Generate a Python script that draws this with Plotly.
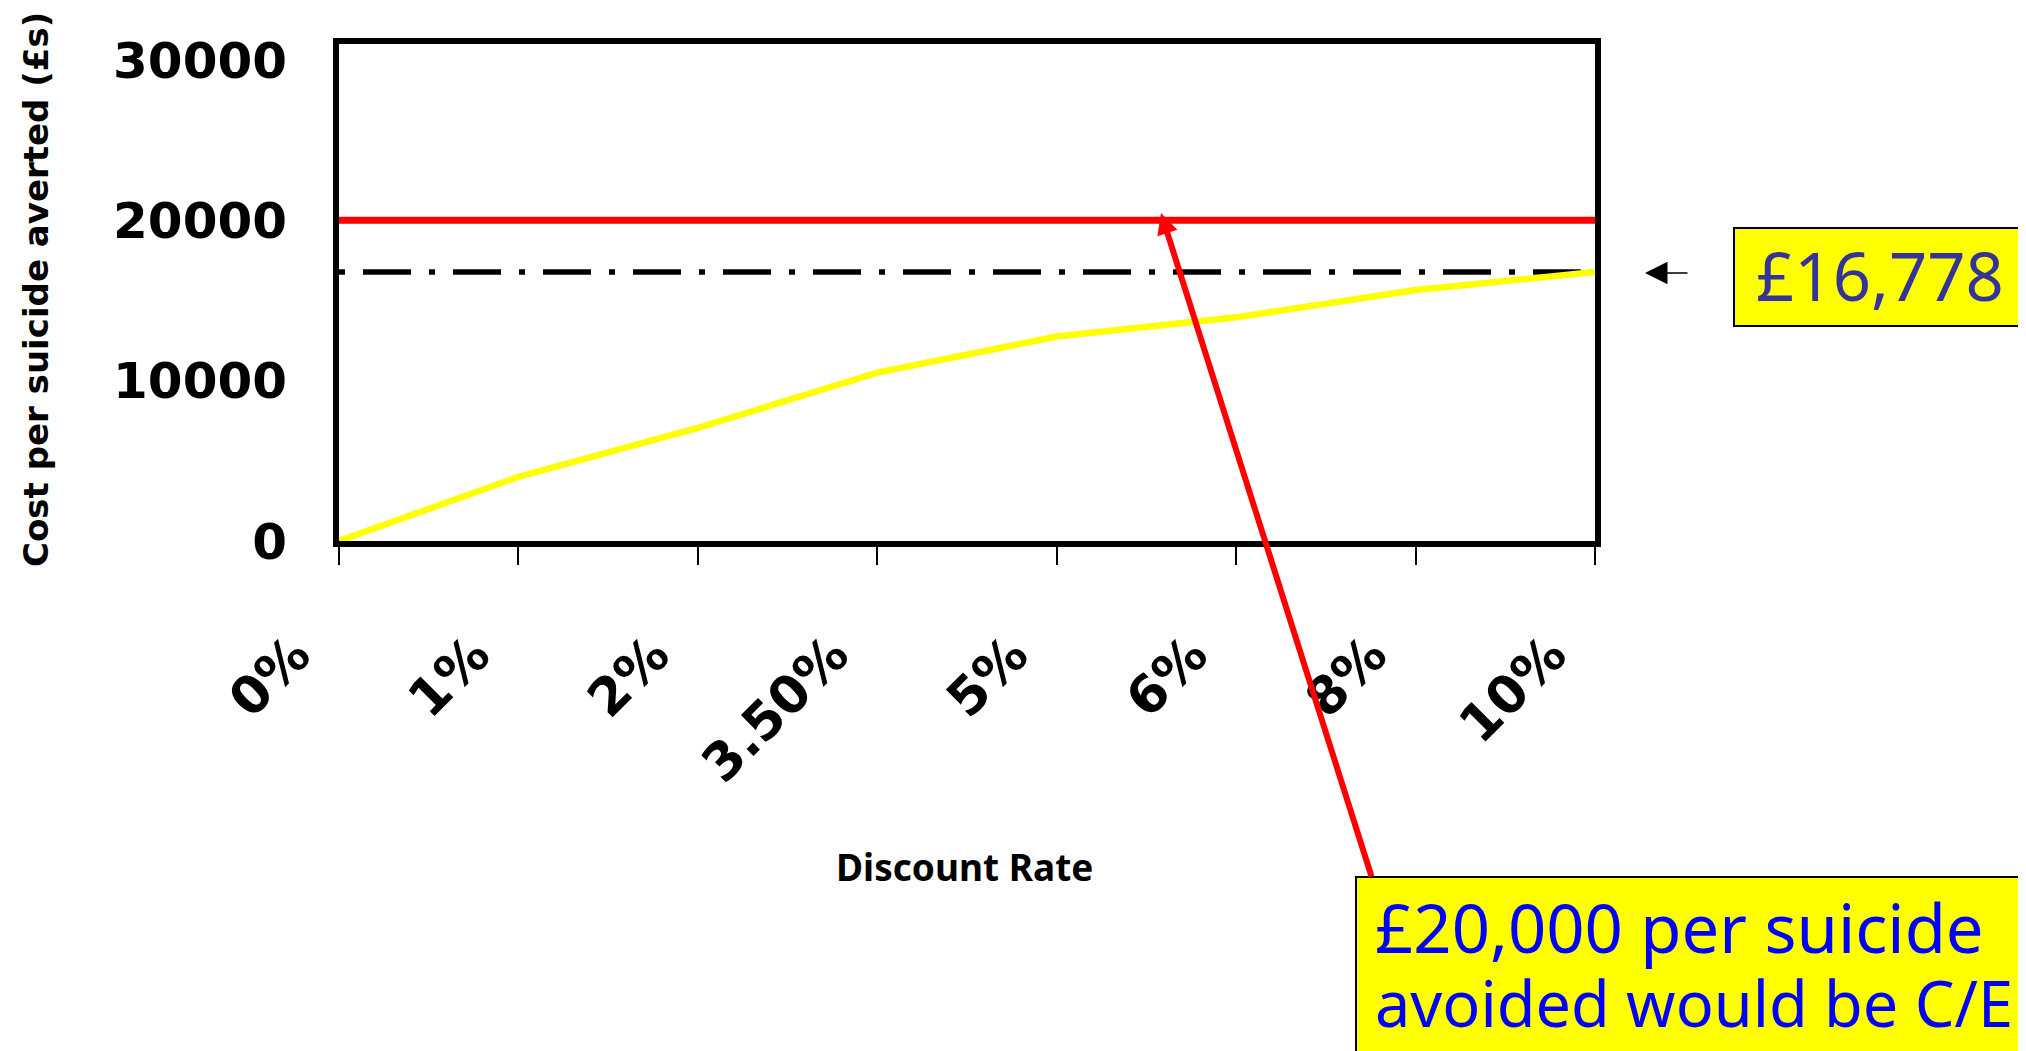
import plotly.graph_objects as go

# ---- data ----
discount_rates = ["0%", "1%", "2%", "3.50%", "5%", "6%", "8%", "10%"]
cost_per_suicide = [0, 4000, 7050, 10500, 12750, 13950, 15650, 16778]
threshold_ce = 20000
base_case = 16778
y_ticks = [0, 10000, 20000, 30000]

# ---- layout geometry (screen pixels; page body has an 8px margin) ----
W, H = 2026, 1051
OFF = 8
L, R, T, B = 339, 1595, 44, 541  # plot area on screen


def px(x):
    return (x - L) / (R - L)


def py(y):
    return (B - y) / (B - T)


fig = go.Figure()
ends = [discount_rates[0], discount_rates[-1]]
fig.add_trace(go.Scatter(x=ends, y=[threshold_ce] * 2, mode="lines",
                         line=dict(color="#FF0000", width=7), hoverinfo="skip"))
fig.add_trace(go.Scatter(x=ends, y=[base_case] * 2, mode="lines",
                         line=dict(color="black", width=5.5, dash="6px,18px,48px,18px"),
                         hoverinfo="skip"))
fig.add_trace(go.Scatter(x=discount_rates, y=cost_per_suicide, mode="lines",
                         line=dict(color="#FFFF00", width=6.5)))

fig.update_layout(
    width=W, height=H,
    margin=dict(l=L - OFF, r=W - (R - OFF), t=T - OFF, b=H - (B - OFF), autoexpand=False),
    paper_bgcolor="white", plot_bgcolor="white",
    showlegend=False,
    xaxis=dict(type="category", categoryorder="array", categoryarray=discount_rates,
               range=[0, len(discount_rates) - 1],
               showline=True, linecolor="black", linewidth=6, mirror=True,
               showgrid=False, zeroline=False,
               ticks="outside", ticklen=18, tickwidth=2, tickcolor="black",
               tickangle=-45,
               tickfont=dict(family="DejaVu Sans", size=52, color="black", weight="bold"),
               ticklabelstandoff=38, ticklabelshift=-44, automargin=False),
    yaxis=dict(range=[0, 31000], tickvals=y_ticks, ticktext=[str(v) for v in y_ticks],
               showline=True, linecolor="black", linewidth=6, mirror=True,
               showgrid=False, zeroline=False, ticks="",
               tickfont=dict(family="DejaVu Sans", size=50, color="black", weight="bold"),
               ticklabelstandoff=36, automargin=False),
)

# axis titles
fig.add_annotation(text="Cost per suicide averted (£s)", xref="paper", yref="paper",
                   x=px(36), y=py(290), textangle=-90, showarrow=False,
                   xanchor="center", yanchor="middle",
                   font=dict(family="DejaVu Sans", size=34, color="black", weight="bold"))
fig.add_annotation(text="Discount Rate", xref="paper", yref="paper",
                   x=px(964), y=py(866), showarrow=False,
                   xanchor="center", yanchor="middle",
                   font=dict(family="Noto Sans", size=37, color="black", weight="bold"))

# boxes
fig.add_shape(type="rect", xref="paper", yref="paper",
              x0=px(1734), x1=px(2070), y0=py(326), y1=py(228),
              fillcolor="#FFFF00", line=dict(color="black", width=2), layer="above")
fig.add_shape(type="rect", xref="paper", yref="paper",
              x0=px(1356), x1=px(2070), y0=py(1090), y1=py(877),
              fillcolor="#FFFF00", line=dict(color="black", width=2), layer="above")

fig.add_annotation(text="£16,778", xref="paper", yref="paper",
                   x=px(1754), y=py(275), showarrow=False,
                   xanchor="left", yanchor="middle",
                   font=dict(family="Noto Sans", size=67, color="#333399"))
fig.add_annotation(text="£20,000 per suicide", xref="paper", yref="paper",
                   x=px(1373), y=py(927), showarrow=False,
                   xanchor="left", yanchor="middle",
                   font=dict(family="Noto Sans", size=67, color="#0000FF"))
fig.add_annotation(text="avoided would be C/E", xref="paper", yref="paper",
                   x=px(1373), y=py(1002), showarrow=False,
                   xanchor="left", yanchor="middle",
                   font=dict(family="Noto Sans", size=63, color="#0000FF"))

# arrows
fig.add_annotation(text="", xref="paper", yref="paper",
                   x=px(1161), y=py(213), ax=1372 - 1161, ay=878 - 213,
                   showarrow=True, arrowhead=2, arrowsize=0.7, arrowwidth=6,
                   arrowcolor="#FF0000")
fig.add_annotation(text="", xref="paper", yref="paper",
                   x=px(1645), y=py(273), ax=1689 - 1645, ay=0,
                   showarrow=True, arrowhead=2, arrowsize=3, arrowwidth=1.5,
                   arrowcolor="black")

fig.write_html("out.html")
